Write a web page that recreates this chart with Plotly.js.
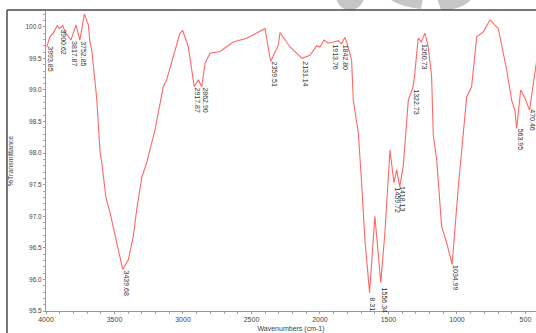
<!DOCTYPE html>
<html>
<head>
<meta charset="utf-8">
<script src="https://cdn.plot.ly/plotly-3.0.1.min.js"></script>
<style>html,body{margin:0;padding:0;background:#fff;}#chart{width:536px;height:333px;}</style>
</head>
<body>
<div id="chart"></div>
<script>
// Wavenumber (cm-1) of each traced point
const wavenumbers = [3995,3971,3947,3918,3903,3878,3861,3845,3818,3781,3753,3720,3691,3679,3666,3655,3630,3620,3606,3593,3562,3533,3484,3440,3399,3363,3338,3301,3265,3204,3144,3119,3022,3002,2961,2925,2918,2888,2863,2839,2803,2730,2633,2535,2401,2360,2304,2292,2219,2131,2073,2024,2000,1971,1939,1914,1866,1843,1818,1801,1769,1757,1732,1720,1696,1672,1638,1615,1599,1556,1526,1489,1460,1440,1418,1392,1355,1323,1310,1283,1261,1234,1209,1185,1173,1148,1112,1075,1035,990,966,954,929,893,856,808,759,698,637,601,577,564,535,504,470,418];
// %Transmittance at each point
const transmittance = [99.68,99.84,99.90,100.02,99.97,100.02,99.92,99.87,99.79,100.03,99.79,100.20,100.03,99.76,99.63,99.40,98.87,98.53,98.03,97.85,97.29,97.06,96.58,96.16,96.31,96.68,97.10,97.61,97.85,98.37,99.05,99.16,99.90,99.94,99.68,99.21,99.05,99.16,99.05,99.42,99.58,99.61,99.76,99.82,99.97,99.45,99.71,99.91,99.68,99.50,99.55,99.70,99.68,99.79,99.74,99.75,99.78,99.73,99.83,99.73,99.47,98.84,98.47,98.32,97.53,96.63,95.79,96.50,97.00,95.95,96.74,98.05,97.53,97.74,97.47,97.79,98.84,99.03,99.21,99.82,99.76,99.90,99.68,99.21,98.29,97.90,96.84,96.58,96.24,97.47,98.05,98.29,98.89,99.05,99.84,99.92,100.11,99.97,99.32,98.84,98.68,98.39,99.00,98.87,98.68,99.47];
// Peak labels
const peakLabels = ["3993.85","3900.62","3817.87","3752.85","3439.68","2917.87","2862.90","2359.51","2131.14","1913.76","1842.80","8.31","1556.34","1459.72","1418.13","1322.73","1260.73","1034.99","563.95","470.46"];
const peakWn = [3993.85,3900.62,3817.87,3752.85,3439.68,2917.87,2862.90,2359.51,2131.14,1913.76,1842.80,1638.31,1556.34,1459.72,1418.13,1322.73,1260.73,1034.99,563.95,470.46];
const peakT = [99.71,99.98,99.79,99.79,96.16,99.05,99.06,99.47,99.47,99.74,99.74,95.73,95.89,97.47,97.50,99.03,99.74,96.24,98.40,98.71];
// Axis ticks
const xTicks = [4000,3500,3000,2500,2000,1500,1000,500];
const yTicks = [95.5,96.0,96.5,97.0,97.5,98.0,98.5,99.0,99.5,100.0];

const FONT = 'Liberation Sans, Arial, sans-serif';

const trace = {
  x: wavenumbers, y: transmittance, type: 'scatter', mode: 'lines',
  line: {color: '#ff6666', width: 1.1}, hoverinfo: 'skip'
};

const annotations = peakLabels.map((t, i) => ({
  x: peakWn[i], y: peakT[i], xref: 'x', yref: 'y', text: t,
  showarrow: false, textangle: 90, xanchor: 'left', yanchor: 'top',
  borderpad: 0, xshift: -1,
  font: {family: FONT, size: 7, color: '#333'}
}));

const px = v => (v - 46) / 490;
const py = v => (311 - v) / 300;

const shapes = [
  {type: 'circle', xref: 'paper', yref: 'paper', x0: px(336), x1: px(364), y0: py(10), y1: py(-18),
   fillcolor: '#c6c6c6', line: {width: 0}},
  {type: 'path', xref: 'paper', yref: 'paper',
   path: `M ${px(388)} ${py(-2)} L ${px(423)} ${py(-2)} L ${px(421)} ${py(9)} Q ${px(400)} ${py(7)} ${px(388)} ${py(-2)} Z`,
   fillcolor: '#c6c6c6', line: {width: 0}},
  {type: 'path', xref: 'paper', yref: 'paper',
   path: `M ${px(437)} ${py(-2)} L ${px(472)} ${py(-2)} Q ${px(464)} ${py(10)} ${px(441)} ${py(10)} Z`,
   fillcolor: '#c6c6c6', line: {width: 0}},
  {type: 'line', xref: 'paper', yref: 'paper', x0: px(7), x1: px(540), y0: py(10), y1: py(10),
   line: {color: '#4a4a4a', width: 1.5}},
  {type: 'line', xref: 'paper', yref: 'paper', x0: px(7), x1: px(7), y0: py(10), y1: py(340),
   line: {color: '#4a4a4a', width: 1.5}}
];

const layout = {
  width: 536, height: 333,
  margin: {l: 46, r: 0, t: 11, b: 22, pad: 0},
  paper_bgcolor: '#fff', plot_bgcolor: '#fff',
  showlegend: false,
  font: {family: FONT, size: 7, color: '#444'},
  xaxis: {
    range: [4000, 423], tickvals: xTicks, ticktext: xTicks.map(String),
    showline: true, linecolor: '#999', linewidth: 1, mirror: false,
    ticks: 'outside', ticklen: 2, tickwidth: 1, tickcolor: '#999',
    minor: {dtick: 100, tick0: 0, ticks: 'outside', ticklen: 2, tickcolor: '#aaa'},
    showgrid: false, zeroline: false, automargin: false,
    tickfont: {family: FONT, size: 7, color: '#444'},
    title: {text: 'Wavenumbers (cm-1)', font: {family: FONT, size: 7, color: '#444'}, standoff: 4}
  },
  yaxis: {
    range: [95.5, 100.25], tickvals: yTicks, ticktext: yTicks.map(v => v.toFixed(1)),
    showline: true, linecolor: '#999', linewidth: 1,
    ticks: 'outside', ticklen: 2, tickwidth: 1, tickcolor: '#999',
    minor: {dtick: 0.1, tick0: 0, ticks: 'outside', ticklen: 2, tickcolor: '#aaa'},
    showgrid: false, zeroline: false, automargin: false,
    tickfont: {family: FONT, size: 6.5, color: '#444'},
    title: {text: '%Transmittance', font: {family: FONT, size: 7, color: '#444'}, standoff: 10}
  },
  annotations: annotations,
  shapes: shapes
};

Plotly.newPlot('chart', [trace], layout, {staticPlot: true, displayModeBar: false});
</script>
</body>
</html>
